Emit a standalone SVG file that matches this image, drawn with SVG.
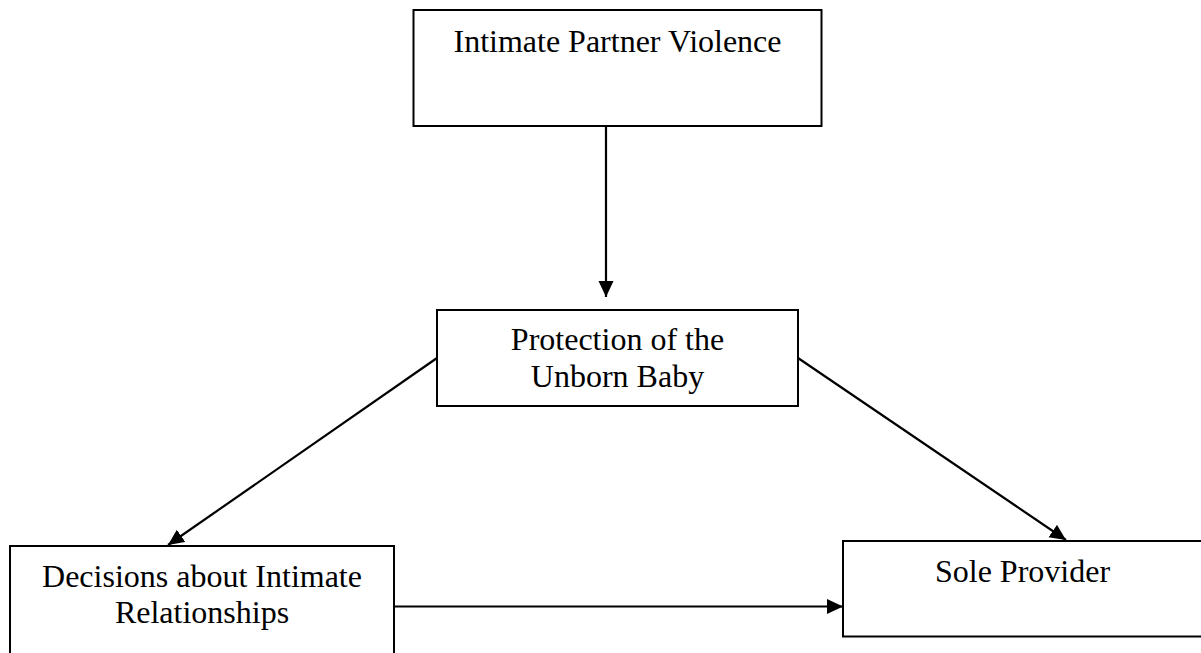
<svg xmlns="http://www.w3.org/2000/svg" width="1201" height="653" viewBox="0 0 1201 653">
  <style>
    .box { fill: #ffffff; stroke: #000000; stroke-width: 2; }
    .label { font-family: "Liberation Serif", "Times New Roman", serif; font-size: 32px; fill: #000000; text-anchor: middle; }
    .link { fill: none; stroke: #000000; stroke-width: 2.2; marker-end: url(#arrow); }
  </style>
  <defs>
    <marker id="arrow" markerUnits="userSpaceOnUse" markerWidth="17" markerHeight="16" refX="16" refY="7.5" orient="auto">
      <path d="M0,0 L16,7.5 L0,15 Z" fill="#000000"/>
    </marker>
  </defs>
  <rect width="1201" height="653" fill="#ffffff"/>

  <g id="ipv">
    <rect class="box" x="413.5" y="10" width="408" height="116"/>
    <text class="label" x="617.5" y="52">Intimate Partner Violence</text>
  </g>

  <g id="protection">
    <rect class="box" x="437" y="310" width="361" height="96"/>
    <text class="label" x="617.5" y="350">Protection of the</text>
    <text class="label" x="617.5" y="387">Unborn Baby</text>
  </g>

  <g id="decisions">
    <rect class="box" x="10" y="546" width="384" height="120"/>
    <text class="label" x="202" y="587">Decisions about Intimate</text>
    <text class="label" x="202" y="623">Relationships</text>
  </g>

  <g id="provider">
    <rect class="box" x="843" y="541" width="370" height="95.5"/>
    <text class="label" x="1022.5" y="582">Sole Provider</text>
  </g>

  <g id="connectors">
    <line class="link" x1="606" y1="127" x2="606" y2="297"/>
    <line class="link" x1="437" y1="358" x2="168" y2="545"/>
    <line class="link" x1="798" y1="358" x2="1066" y2="540"/>
    <line class="link" x1="395" y1="606.5" x2="843" y2="606.5"/>
  </g>
</svg>
